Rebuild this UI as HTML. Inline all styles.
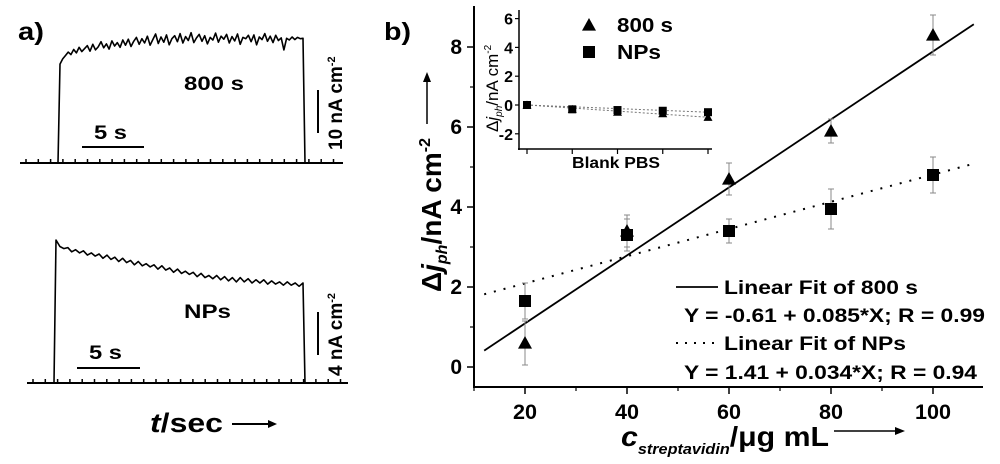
<!DOCTYPE html>
<html><head><meta charset="utf-8"><style>
body{margin:0;background:#fff}
svg{display:block;font-family:"Liberation Sans",Arial,sans-serif;font-weight:bold}
</style></head><body>
<svg id="fig" width="1000" height="464" viewBox="0 0 1000 464">
<g id="panelA">
<text x="18" y="40" font-size="25" textLength="26" lengthAdjust="spacingAndGlyphs">a)</text>
<text x="184" y="90" font-size="19" textLength="60" lengthAdjust="spacingAndGlyphs">800 s</text>
<text x="184" y="318" font-size="19" textLength="47" lengthAdjust="spacingAndGlyphs">NPs</text>
<line x1="82" y1="147" x2="144" y2="147" stroke="#000" stroke-width="2"/>
<text x="94" y="139" font-size="19" textLength="33" lengthAdjust="spacingAndGlyphs">5 s</text>
<line x1="77" y1="368" x2="140" y2="368" stroke="#000" stroke-width="2"/>
<text x="89" y="359" font-size="19" textLength="33" lengthAdjust="spacingAndGlyphs">5 s</text>
<line x1="318" y1="90" x2="318" y2="133" stroke="#000" stroke-width="2"/>
<text transform="translate(342,150) rotate(-90)" font-size="19">10 nA cm<tspan dy="-7" font-size="11">-2</tspan></text>
<line x1="318" y1="312" x2="318" y2="355" stroke="#000" stroke-width="2"/>
<text transform="translate(342,376) rotate(-90)" font-size="19">4 nA cm<tspan dy="-7" font-size="11">-2</tspan></text>
<text x="150" y="432" font-size="27" textLength="73" lengthAdjust="spacingAndGlyphs"><tspan font-style="italic">t</tspan>/sec</text>
<line x1="232" y1="424" x2="270" y2="424" stroke="#000" stroke-width="2"/>
<polygon points="277,424 268,420 268,428" fill="#000"/>
</g>
<g id="panelB">
<text x="384" y="40" font-size="25" textLength="27" lengthAdjust="spacingAndGlyphs">b)</text>
</g>
</svg>
<script>
// ---- Panel a traces (signal in nA) ----
const top800 = [23.0,24.2,25.0,25.8,25.2,26.4,25.6,26.9,25.9,26.6,27.3,26.0,27.6,26.3,27.0,28.2,26.8,27.7,26.5,28.4,27.2,28.0,26.9,28.6,27.4,28.8,27.1,28.3,29.2,27.6,28.9,27.9,29.5,27.4,28.7,30.0,27.8,29.3,28.1,29.8,27.5,28.9,29.6,28.2,30.1,27.9,29.4,28.5,30.3,28.0,29.1,29.9,28.3,29.6,27.7,29.2,28.6,30.2,28.1,29.5,28.8,29.9,27.9,29.4,28.4,30.0,27.6,29.2,28.9,29.7,28.2,29.8,27.5,29.3,28.7,30.1,28.3,29.5,28.0,29.7,28.5,29.1,26.3,29.0,28.6,29.3,28.7,29.2,28.9,29.0];
const topNPs = [13.3,12.7,12.5,12.6,12.2,12.4,12.1,12.3,11.9,12.1,11.8,12.0,11.6,11.9,11.5,11.7,11.3,11.6,11.2,11.4,11.0,11.3,10.9,11.1,10.8,11.0,10.6,10.9,10.5,10.7,10.3,10.6,10.2,10.4,10.1,10.3,9.9,10.2,9.8,10.0,9.7,10.0,9.6,9.9,9.5,9.8,9.4,9.8,9.4,9.7,9.3,9.6,9.3,9.6,9.2,9.5,9.2,9.4,9.1,9.4,9.1,9.3,9.0,9.3];
const NS="http://www.w3.org/2000/svg";
const svg=document.getElementById('fig');
const pA=document.getElementById('panelA');
const pB=document.getElementById('panelB');
function mk(tag,attrs,parent){const e=document.createElementNS(NS,tag);for(const k in attrs)e.setAttribute(k,attrs[k]);(parent||svg).appendChild(e);return e;}

function trace(arr,baseY,x0,x1,rise,fall,pxPerUnit,name){
  mk('line',{x1:x0,y1:baseY,x2:x1,y2:baseY,stroke:'#000','stroke-width':2},pA);
  for(let x=x0+6;x<x1;x+=12.3){const t=mk('line',{x1:x,y1:baseY,x2:x,y2:baseY-4,stroke:'#000','stroke-width':1.5},pA);}
  let d='M'+x0+','+baseY+' L'+rise+','+baseY;
  const start=rise+2, n=arr.length;
  arr.forEach((v,i)=>{const x=start+(fall-2-start)*i/(n-1);d+=' L'+x.toFixed(1)+','+(baseY-v*pxPerUnit).toFixed(1);});
  d+=' L'+fall+','+baseY+' L'+x1+','+baseY;
  const p=mk('path',{d:d,fill:'none',stroke:'#000','stroke-width':1.6,'stroke-linejoin':'round'},pA);
  
  
}
trace(top800,163,20,343,58,305,4.3,'trace-800s');
trace(topNPs,383,27,348,54,305,10.75,'trace-nps');

// ---- Panel b data ----
const conc=[20,40,60,80,100];
const tri=[0.6,3.4,4.7,5.9,8.3];
const triErr=[0.55,0.4,0.4,0.3,0.5];
const sq=[1.65,3.3,3.4,3.95,4.8];
const sqErr=[0.45,0.4,0.3,0.5,0.45];
const fit800=[-0.61,0.085];
const fitNPs=[1.41,0.034];
const xTicks=[20,40,60,80,100];
const yTicks=[0,2,4,6,8];
const insetTri=[0,-0.3,-0.5,-0.6,-0.85];
const insetSq=[0,-0.3,-0.35,-0.4,-0.5];
const insetYTicks=[-2,0,2,4,6];

const X=v=>525+(v-20)*5.1, Y=v=>367-40*v;
const IX=i=>527+i*45.25, IY=v=>105-14.4*v;

mk('line',{x1:474,y1:6,x2:474,y2:388,stroke:'#000','stroke-width':2},pB);
mk('line',{x1:473,y1:387,x2:983,y2:387,stroke:'#000','stroke-width':2},pB);
xTicks.forEach(v=>{
  const t=mk('line',{x1:X(v),y1:387,x2:X(v),y2:394,stroke:'#000','stroke-width':1.5},pB);
  const s=String(v);
  const l=mk('text',{x:X(v),y:419,'font-size':21,'text-anchor':'middle',textLength:s.length*12,lengthAdjust:'spacingAndGlyphs'},pB);l.textContent=s;
  
});
for(let v=10;v<110;v+=20){const t=mk('line',{x1:X(v),y1:387,x2:X(v),y2:391,stroke:'#000','stroke-width':1.2},pB);}
yTicks.forEach(v=>{
  const t=mk('line',{x1:467,y1:Y(v),x2:474,y2:Y(v),stroke:'#000','stroke-width':1.5},pB);
  const l=mk('text',{x:462,y:Y(v)+7,'font-size':21,'text-anchor':'end'},pB);l.textContent=v;
  
});
for(let v=1;v<9;v+=2){const t=mk('line',{x1:470,y1:Y(v),x2:474,y2:Y(v),stroke:'#000','stroke-width':1.2},pB);}

let f=mk('line',{x1:X(12),y1:Y(fit800[0]+fit800[1]*12),x2:X(108),y2:Y(fit800[0]+fit800[1]*108),stroke:'#000','stroke-width':1.8},pB);

f=mk('line',{x1:X(12),y1:Y(fitNPs[0]+fitNPs[1]*12),x2:X(108),y2:Y(fitNPs[0]+fitNPs[1]*108),stroke:'#000','stroke-width':2,'stroke-dasharray':'2 8'},pB);


function errbar(x,y,e,g,scale,w){
  const el=mk('path',{d:`M${x},${scale(y-e)} V${scale(y+e)} M${x-w},${scale(y-e)} H${x+w} M${x-w},${scale(y+e)} H${x+w}`,stroke:'#888','stroke-width':1,fill:'none'},g);
  
}
function triM(x,y,s,g,n){const t=mk('polygon',{points:`${x},${y-s} ${x-s},${y+s*0.8} ${x+s},${y+s*0.8}`,fill:'#000'},g);}
function sqM(x,y,s,g,n){const t=mk('rect',{x:x-s,y:y-s,width:2*s,height:2*s,fill:'#000'},g);}
conc.forEach((c,i)=>{
  errbar(X(c),sq[i],sqErr[i],pB,Y,3);errbar(X(c),tri[i],triErr[i],pB,Y,3);
  sqM(X(c),Y(sq[i]),6,pB,'point-nps');triM(X(c),Y(tri[i]),7,pB,'point-800s');
});

mk('line',{x1:676,y1:287,x2:718,y2:287,stroke:'#000','stroke-width':1.8},pB);
mk('line',{x1:676,y1:343,x2:718,y2:343,stroke:'#000','stroke-width':2,'stroke-dasharray':'2 7'},pB);
[['Linear Fit of 800 s',724,294,194,'legend-label-800s'],['Y = -0.61 + 0.085*X; R = 0.99',684,322,301,'legend-equation-800s'],['Linear Fit of NPs',724,350,182,'legend-label-nps'],['Y = 1.41 + 0.034*X; R = 0.94',684,379,293,'legend-equation-nps']].forEach(a=>{
  const t=mk('text',{x:a[1],y:a[2],'font-size':19,textLength:a[3],lengthAdjust:'spacingAndGlyphs'},pB);t.textContent=a[0];
});

let yt=mk('text',{transform:'translate(441,292) rotate(-90)','font-size':28},pB);
yt.innerHTML='Δ<tspan font-style="italic">j</tspan><tspan font-style="italic" font-size="16" dy="6">ph</tspan><tspan dy="-6">/nA cm</tspan><tspan font-size="16" dy="-11">-2</tspan>';

mk('line',{x1:427,y1:124,x2:427,y2:80,stroke:'#000','stroke-width':1.5},pB);
mk('polygon',{points:'427,72 423,82 431,82',fill:'#000'},pB);
let xt=mk('text',{x:621,y:446,'font-size':28,textLength:208,lengthAdjust:'spacingAndGlyphs'},pB);
xt.innerHTML='<tspan font-style="italic">c</tspan><tspan font-style="italic" font-size="15" dy="8">streptavidin</tspan><tspan dy="-8">/μg mL</tspan>';

mk('line',{x1:834,y1:431,x2:896,y2:431,stroke:'#000','stroke-width':1.5},pB);
mk('polygon',{points:'905,431 895,427 895,435',fill:'#000'},pB);

const inset=mk('g',{},pB);


mk('line',{x1:519,y1:10,x2:519,y2:150,stroke:'#000','stroke-width':1.5},inset);
mk('line',{x1:518,y1:149,x2:712,y2:149,stroke:'#000','stroke-width':1.5},inset);
insetYTicks.forEach(v=>{
  mk('line',{x1:515,y1:IY(v),x2:519,y2:IY(v),stroke:'#000','stroke-width':1.2},inset);
  const l=mk('text',{x:513,y:IY(v)+6,'font-size':16,'text-anchor':'end'},inset);l.textContent=v;
  
});
for(let i=0;i<5;i++){mk('line',{x1:IX(i),y1:149,x2:IX(i),y2:154,stroke:'#000','stroke-width':1.2},inset);}
mk('line',{x1:IX(0),y1:IY(insetTri[0]),x2:IX(4),y2:IY(insetTri[4]),stroke:'#777','stroke-width':1,'stroke-dasharray':'2 2'},inset);
mk('line',{x1:IX(0),y1:IY(insetSq[0]),x2:IX(4),y2:IY(insetSq[4]),stroke:'#777','stroke-width':1,'stroke-dasharray':'2 2'},inset);
insetTri.forEach((v,i)=>{triM(IX(i),IY(v),4.5,inset,'inset-point-800s');});
insetSq.forEach((v,i)=>{sqM(IX(i),IY(v),4,inset,'inset-point-nps');});
let bl=mk('text',{x:572,y:168,'font-size':16,textLength:88,lengthAdjust:'spacingAndGlyphs'},inset);bl.textContent='Blank PBS';

let iyt=mk('text',{transform:'translate(498,132) rotate(-90)','font-size':17,'font-weight':'normal'},inset);
iyt.innerHTML='Δ<tspan font-style="italic">j</tspan><tspan font-style="italic" font-size="10" dy="4">ph</tspan><tspan dy="-4">/nA cm</tspan><tspan font-size="10" dy="-7">-2</tspan>';

triM(589,25,7,inset,'legend-marker-800s');
sqM(589,52,6,inset,'legend-marker-nps');
let l1=mk('text',{x:617,y:32,'font-size':20,textLength:56,lengthAdjust:'spacingAndGlyphs'},inset);l1.textContent='800 s';
let l2=mk('text',{x:617,y:59,'font-size':20,textLength:44,lengthAdjust:'spacingAndGlyphs'},inset);l2.textContent='NPs';
</script>
</body></html>
